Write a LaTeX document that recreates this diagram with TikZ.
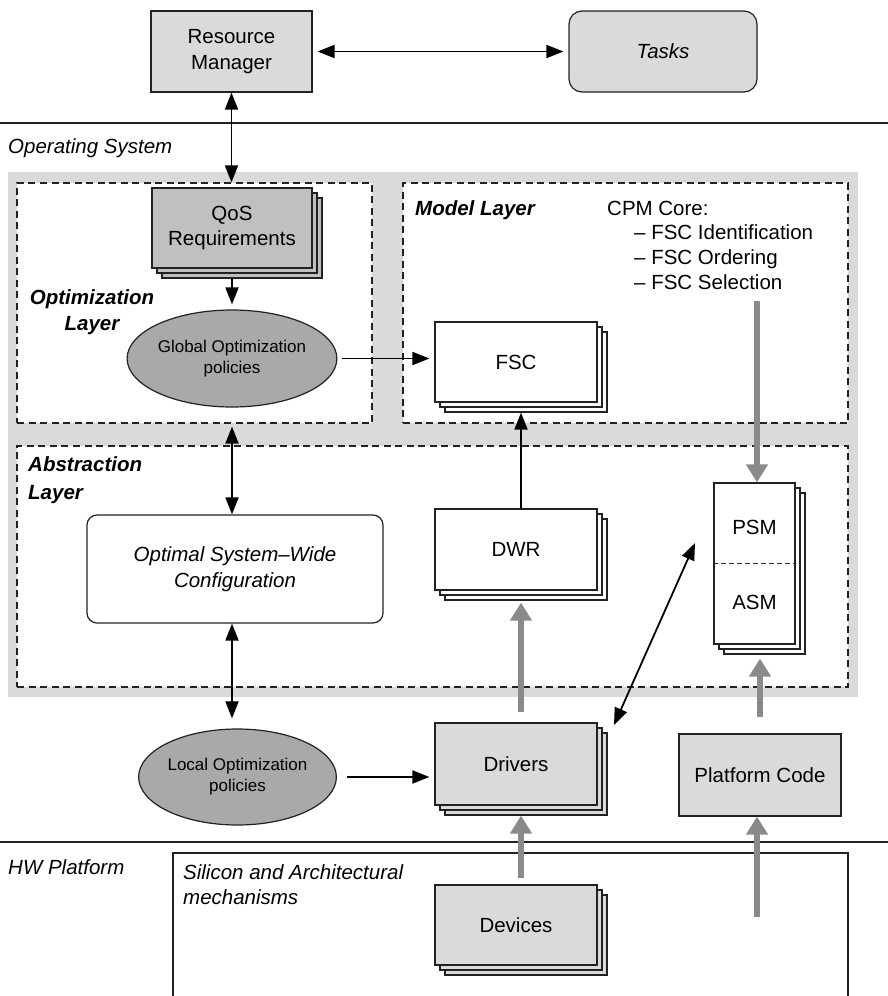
\documentclass[tikz,border=0pt]{standalone}
\usepackage{fontspec}
\setmainfont{Liberation Sans}
\usetikzlibrary{arrows.meta,shapes.geometric}
\definecolor{lg}{HTML}{DADADA}
\definecolor{mg}{HTML}{C0C0C0}
\definecolor{dg}{HTML}{A9A9A9}
\definecolor{ga}{HTML}{8A8A8A}
\definecolor{ln}{HTML}{222222}
\newcommand{\mainfs}{\fontsize{20.5}{25.5}\selectfont}
\newcommand{\smallfs}{\fontsize{17}{21}\selectfont}
\newcommand{\mystack}[7]{%
  \node[box,fill=#6,minimum width=#4pt,minimum height=#5pt] (#1-3) at (#2+10,#3+10) {};
  \node[box,fill=#6,minimum width=#4pt,minimum height=#5pt] (#1-2) at (#2+5,#3+5) {};
  \node[box,fill=#6,minimum width=#4pt,minimum height=#5pt] (#1) at (#2,#3) {#7};
}
\begin{document}
\begin{tikzpicture}[x=1pt,y=-1pt,
  font=\mainfs,
  box/.style={draw=ln,line width=1.2pt,inner sep=0pt,align=center},
  ell/.style={ellipse,draw=ln,line width=1.2pt,fill=dg,inner sep=0pt,align=center,font=\smallfs},
  arr/.style={line width=1.8pt,-{Triangle[length=17pt,width=13pt]}},
  dbl/.style={line width=1.8pt,{Triangle[length=17pt,width=13pt]}-{Triangle[length=17pt,width=13pt]}},
  garr/.style={draw=ga,line width=5.5pt,-{Triangle[length=18pt,width=21pt]}},
  dbox/.style={draw=ln,line width=1.2pt,dash pattern=on 7pt off 4.5pt,fill=white,inner sep=0pt},
  sep/.style={draw=ln,line width=1.3pt},
  lbl/.style={inner sep=0pt,anchor=west,text height=14.8pt,text depth=0pt},
  mlbl/.style={inner sep=0pt,anchor=west,align=left}]
\useasboundingbox (0,0) rectangle (888,996);
\fill[white] (0,0) rectangle (888,996);

% separators
\draw[sep] (0,123) -- (888,123);
\draw[sep] (0,842) -- (888,842);

% gray band and dashed layer boxes
\fill[lg] (8,172) rectangle (858,697);
\node[dbox,minimum width=355pt,minimum height=240pt] (optbox) at (194.5,303) {};
\node[dbox,minimum width=445pt,minimum height=240pt] (modbox) at (625.5,303) {};
\node[dbox,minimum width=831pt,minimum height=241pt] (absbox) at (432.5,566.5) {};

% silicon box
\draw[sep] (173,1000) -- (173,853) -- (848,853) -- (848,1000);

% labels
\node[lbl,font=\mainfs\itshape] (os) at (8,146) {Operating System};
\node[lbl,font=\mainfs\itshape] (hw) at (8,867) {HW Platform};
\node[inner sep=0pt,align=center,font=\mainfs\bfseries\itshape] (optl) at (92,312) {Optimization\\Layer};
\node[lbl,font=\mainfs\bfseries\itshape] (modl) at (415,208) {Model Layer};
\node[mlbl,font=\mainfs\bfseries\itshape] (absl) at (28,480) {Abstraction\\[2pt]Layer};
\node[lbl] (cpm) at (607,208) {CPM Core:};
\node[lbl] (cpm1) at (634,232) {– FSC Identification};
\node[lbl] (cpm2) at (634,257) {– FSC Ordering};
\node[lbl] (cpm3) at (634,282) {– FSC Selection};
\node[mlbl,font=\mainfs\itshape] (sil) at (183,884.5) {Silicon and Architectural\\mechanisms};

% top boxes
\node[box,fill=lg,minimum width=161pt,minimum height=81pt] (rm) at (231.5,51.5) {Resource\\Manager};
\node[box,fill=lg,rounded corners=13pt,minimum width=188pt,minimum height=81pt,font=\mainfs\itshape] (tasks) at (663,51.5) {Tasks};

% stacks
\mystack{qos}{232}{228}{160}{80}{mg}{QoS\\Requirements}
\mystack{fsc}{516}{362}{162}{80}{white}{FSC}
\mystack{dwr}{516}{549.5}{162}{81}{white}{DWR}
\mystack{drv}{516}{764}{162}{82}{lg}{Drivers}
\mystack{dev}{516}{925}{162}{80}{lg}{Devices}
\mystack{psm}{754.5}{563.5}{81}{161}{white}{}
\draw[draw=ln,line width=1pt,dash pattern=on 5pt off 3pt] (psm.west) -- (psm.east);
\node (psmt) at (754.5,527) {PSM};
\node (asmt) at (754.5,602) {ASM};

% ellipses and other boxes
\node[ell,minimum width=183pt,minimum height=97pt] (glob) at (232,358.5) {Global Optimization\\policies};
\node[ell,minimum width=183pt,minimum height=96pt] (loc) at (237.5,777) {Local Optimization\\policies};
\node[box,fill=white,rounded corners=10pt,minimum width=296pt,minimum height=108pt,font=\mainfs\itshape] (osw) at (235,569) {Optimal System–Wide\\Configuration};
\node[box,fill=lg,minimum width=162pt,minimum height=82pt] (plat) at (760,775) {Platform Code};

% free ends
\coordinate (cpmsrc) at (757,301);
\coordinate (hwsrc) at (757,917);
\coordinate (dg1) at (614,725);
\coordinate (dg2) at (695,543);

% black connectors
\draw[dbl,shorten <=5pt,shorten >=5pt] (rm.east) -- (tasks.west);
\draw[dbl] (rm.south) -- (rm.south |- optbox.north);
\draw[arr,shorten >=5pt] (qos.south |- qos-3.south) -- (glob.north);
\draw[arr,shorten <=5pt,shorten >=5pt] (glob.east) -- (glob.east -| fsc.west);
\draw[dbl,shorten <=3pt] (glob.south |- optbox.south) -- (glob.south |- osw.north);
\draw[dbl,shorten >=10pt] (glob.south |- osw.south) -- (glob.south |- loc.north);
\draw[arr,shorten <=10pt,shorten >=5pt] (loc.east) -- (loc.east -| drv.west);
\draw[arr] (dwr.north -| fsc-2.south) -- (fsc-3.south -| fsc-2.south);
\draw[dbl] (dg1) -- (dg2);

% gray connectors
\draw[garr] (cpmsrc) -- (cpmsrc |- psm.north);
\draw[garr,shorten <=6pt] (dev.north -| dev-2.north) -- (drv-3.south -| dev-2.north);
\draw[garr,shorten <=10pt,shorten >=2pt] (drv.north -| drv-2.north) -- (dwr-3.south -| drv-2.north);
\draw[garr,shorten <=16pt,shorten >=4pt] (plat.north) -- (plat.north |- psm-3.south);
\draw[garr] (hwsrc) -- (hwsrc |- plat.south);
\end{tikzpicture}
\end{document}
